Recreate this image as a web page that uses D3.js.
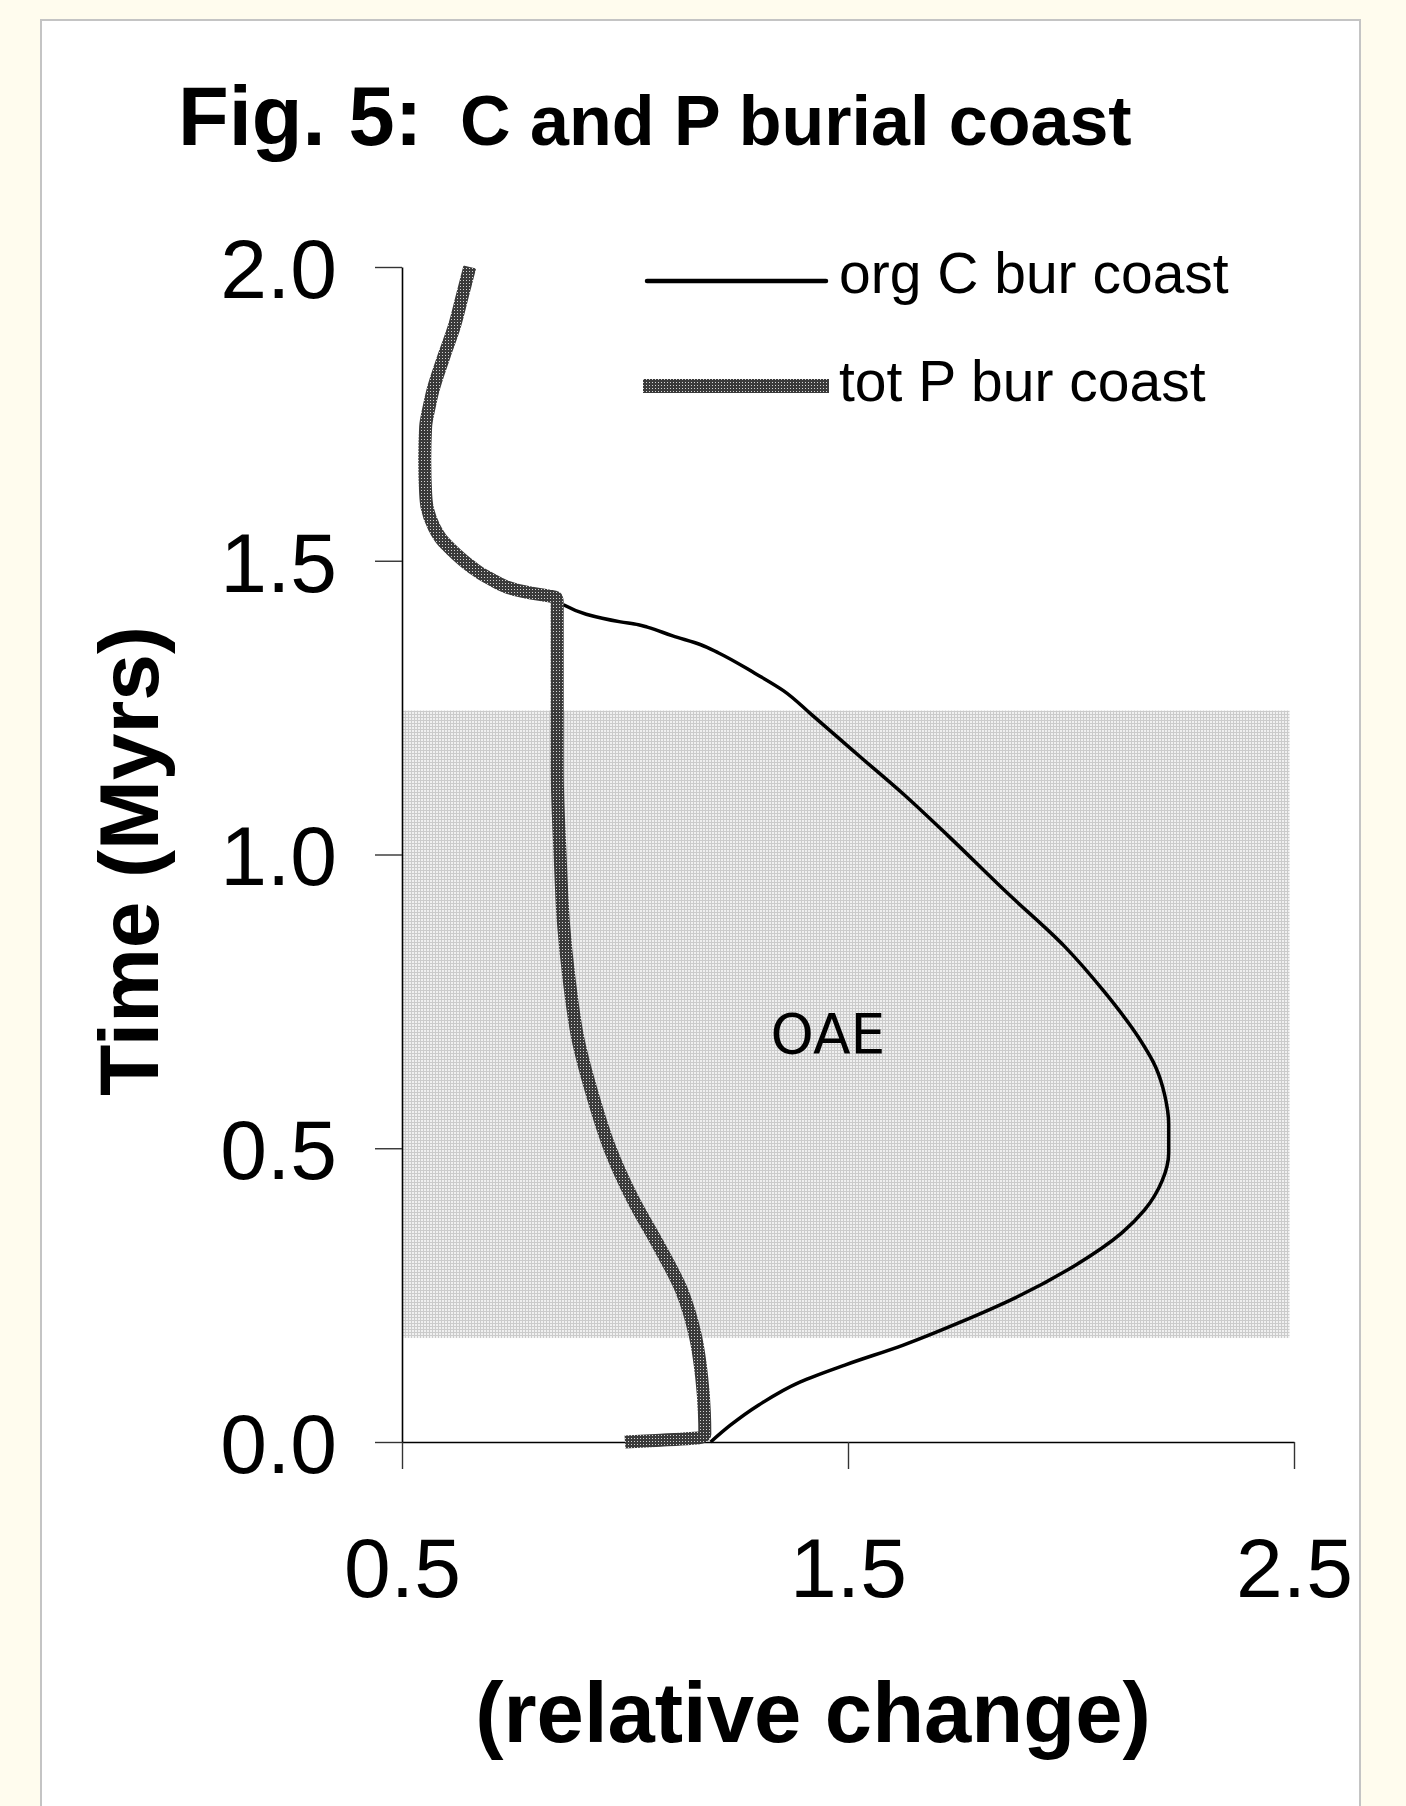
<!DOCTYPE html>
<html>
<head>
<meta charset="utf-8">
<script src="https://cdn.jsdelivr.net/npm/d3@7"></script>
<style>
  html, body { margin: 0; padding: 0; background: #fffcee; }
  svg { display: block; }
</style>
</head>
<body>
<svg id="chart" width="1406" height="1806"></svg>
<script>
// org C burial, coast (time in Myrs, relative change)
const cTime = [0.000, 0.029, 0.063, 0.102, 0.131, 0.165, 0.204, 0.248, 0.301, 0.356, 0.395, 0.444, 0.492, 0.541, 0.591, 0.638, 0.688, 0.766, 0.844, 0.936, 1.030, 1.103, 1.171, 1.239, 1.279, 1.309, 1.343, 1.357, 1.372, 1.387, 1.391, 1.396, 1.409, 1.425]
const cValue = [1.192, 1.237, 1.300, 1.392, 1.493, 1.624, 1.752, 1.882, 2.010, 2.114, 2.165, 2.204, 2.219, 2.219, 2.210, 2.190, 2.152, 2.075, 1.985, 1.855, 1.727, 1.624, 1.520, 1.417, 1.355, 1.290, 1.210, 1.170, 1.107, 1.050, 1.030, 0.990, 0.913, 0.862]

// tot P burial, coast
const pTime = [0.000, 0.003, 0.008, 0.013, 0.050, 0.110, 0.180, 0.258, 0.335, 0.414, 0.502, 0.591, 0.688, 0.786, 0.883, 0.990, 1.147, 1.323, 1.430, 1.437, 1.440, 1.445, 1.472, 1.490, 1.518, 1.535, 1.557, 1.592, 1.615, 1.671, 1.728, 1.762, 1.786, 1.850, 1.898, 1.950, 2.000]
const pValue = [1.000, 1.080, 1.170, 1.179, 1.178, 1.172, 1.158, 1.127, 1.075, 1.017, 0.965, 0.927, 0.894, 0.875, 0.862, 0.855, 0.848, 0.848, 0.848, 0.846, 0.830, 0.790, 0.691, 0.655, 0.612, 0.590, 0.572, 0.556, 0.553, 0.551, 0.553, 0.561, 0.568, 0.595, 0.617, 0.635, 0.652]

// OAE shaded interval
const oaeTime = [0.177, 1.245]
const oaeValue = [0.5, 2.49]

const xTicks = [0.5, 1.5, 2.5]
const yTicks = [0.0, 0.5, 1.0, 1.5, 2.0]
const seriesNames = ['org C bur coast', 'tot P bur coast']

const FONT = '"Liberation Sans", Arial, Helvetica, sans-serif'

const svg = d3.select('#chart')

const defs = svg.append('defs')

// dotted dark pattern for the P line
const pPat = defs.append('pattern')
  .attr('id', 'pPat')
  .attr('width', 3)
  .attr('height', 3)
  .attr('patternUnits', 'userSpaceOnUse')
pPat.append('rect').attr('width', 3).attr('height', 3).attr('fill', '#3a3a3a')
pPat.append('rect').attr('x', 1).attr('y', 1).attr('width', 1).attr('height', 1).attr('fill', '#d4d4d4')

// fine grid pattern for the OAE box
const boxPat = defs.append('pattern')
  .attr('id', 'boxPat')
  .attr('width', 3)
  .attr('height', 3)
  .attr('patternUnits', 'userSpaceOnUse')
boxPat.append('rect').attr('width', 3).attr('height', 3).attr('fill', '#f0f0f0')
boxPat.append('rect').attr('width', 1).attr('height', 3).attr('fill', '#cbcbcb')
boxPat.append('rect').attr('width', 3).attr('height', 1).attr('fill', '#cbcbcb')

// white panel
svg.append('rect')
  .attr('x', 41)
  .attr('y', 20)
  .attr('width', 1319)
  .attr('height', 1800)
  .attr('fill', '#fff')
  .attr('stroke', '#c4c4c4')
  .attr('stroke-width', 2)

const x = d3.scaleLinear().domain([0.5, 2.5]).range([402, 1294])
const y = d3.scaleLinear().domain([0, 2]).range([1442, 267])

// title
const title = svg.append('text')
  .attr('y', 145)
  .attr('font-family', FONT)
  .attr('font-weight', 'bold')
  .attr('fill', '#000')
title.append('tspan').attr('x', 178).attr('font-size', 83).text('Fig. 5:')
title.append('tspan').attr('x', 460).attr('font-size', 70).text('C and P burial coast')

// OAE box
svg.append('rect')
  .attr('x', x(oaeValue[0]))
  .attr('y', y(oaeTime[1]))
  .attr('width', x(oaeValue[1]) - x(oaeValue[0]))
  .attr('height', y(oaeTime[0]) - y(oaeTime[1]))
  .attr('fill', 'url(#boxPat)')

svg.append('text')
  .attr('x', x(1.455))
  .attr('y', 1053)
  .attr('text-anchor', 'middle')
  .attr('font-family', '"DejaVu Sans", Verdana, sans-serif')
  .attr('font-size', 55)
  .attr('fill', '#000')
  .text('OAE')

// axes
const yAxis = svg.append('g')
  .attr('transform', `translate(${x(0.5)},0)`)
  .call(d3.axisLeft(y).tickValues(yTicks).tickSize(27).tickSizeOuter(0).tickPadding(38).tickFormat(d3.format('.1f')))

const xAxis = svg.append('g')
  .attr('transform', `translate(0,${y(0)})`)
  .call(d3.axisBottom(x).tickValues(xTicks).tickSize(27).tickSizeOuter(0).tickPadding(68).tickFormat(d3.format('.1f')))

;[yAxis, xAxis].forEach(g => {
  g.select('.domain').attr('stroke', '#000').attr('stroke-width', 1.6)
  g.selectAll('.tick line').attr('stroke', '#333').attr('stroke-width', 1.4)
  g.selectAll('.tick text')
    .attr('font-family', FONT)
    .attr('font-size', 84)
    .attr('fill', '#000')
})
yAxis.selectAll('.tick text').attr('dy', '0.36em')

// axis titles
svg.append('text')
  .attr('transform', 'translate(158,861) rotate(-90)')
  .attr('text-anchor', 'middle')
  .attr('font-family', FONT)
  .attr('font-weight', 'bold')
  .attr('font-size', 84)
  .attr('fill', '#000')
  .text('Time (Myrs)')

svg.append('text')
  .attr('x', 813)
  .attr('y', 1742)
  .attr('text-anchor', 'middle')
  .attr('font-family', FONT)
  .attr('font-weight', 'bold')
  .attr('font-size', 85)
  .attr('fill', '#000')
  .text('(relative change)')

// series
const cData = cTime.map((t, i) => ({ t, v: cValue[i] }))
const pData = pTime.map((t, i) => ({ t, v: pValue[i] }))

const line = d3.line()
  .x(d => x(d.v))
  .y(d => y(d.t))
  .curve(d3.curveMonotoneY)

svg.append('path')
  .datum(cData)
  .attr('d', line)
  .attr('fill', 'none')
  .attr('stroke', '#000')
  .attr('stroke-width', 3.5)
  .attr('stroke-linejoin', 'round')

svg.append('path')
  .datum(pData)
  .attr('d', line)
  .attr('fill', 'none')
  .attr('stroke', 'url(#pPat)')
  .attr('stroke-width', 13)
  .attr('stroke-linejoin', 'miter')

// legend
const legend = svg.append('g')

legend.append('line')
  .attr('x1', 647).attr('x2', 826)
  .attr('y1', 281).attr('y2', 281)
  .attr('stroke', '#000')
  .attr('stroke-width', 4.5)
  .attr('stroke-linecap', 'round')

legend.append('line')
  .attr('x1', 643).attr('x2', 829)
  .attr('y1', 386).attr('y2', 386)
  .attr('stroke', 'url(#pPat)')
  .attr('stroke-width', 14)

legend.selectAll('text.lbl')
  .data(seriesNames)
  .join('text')
  .attr('class', 'lbl')
  .attr('x', 839)
  .attr('y', (_, i) => i === 0 ? 293 : 401)
  .attr('font-family', FONT)
  .attr('font-size', 57)
  .attr('fill', '#000')
  .text(d => d)
</script>
</body>
</html>
